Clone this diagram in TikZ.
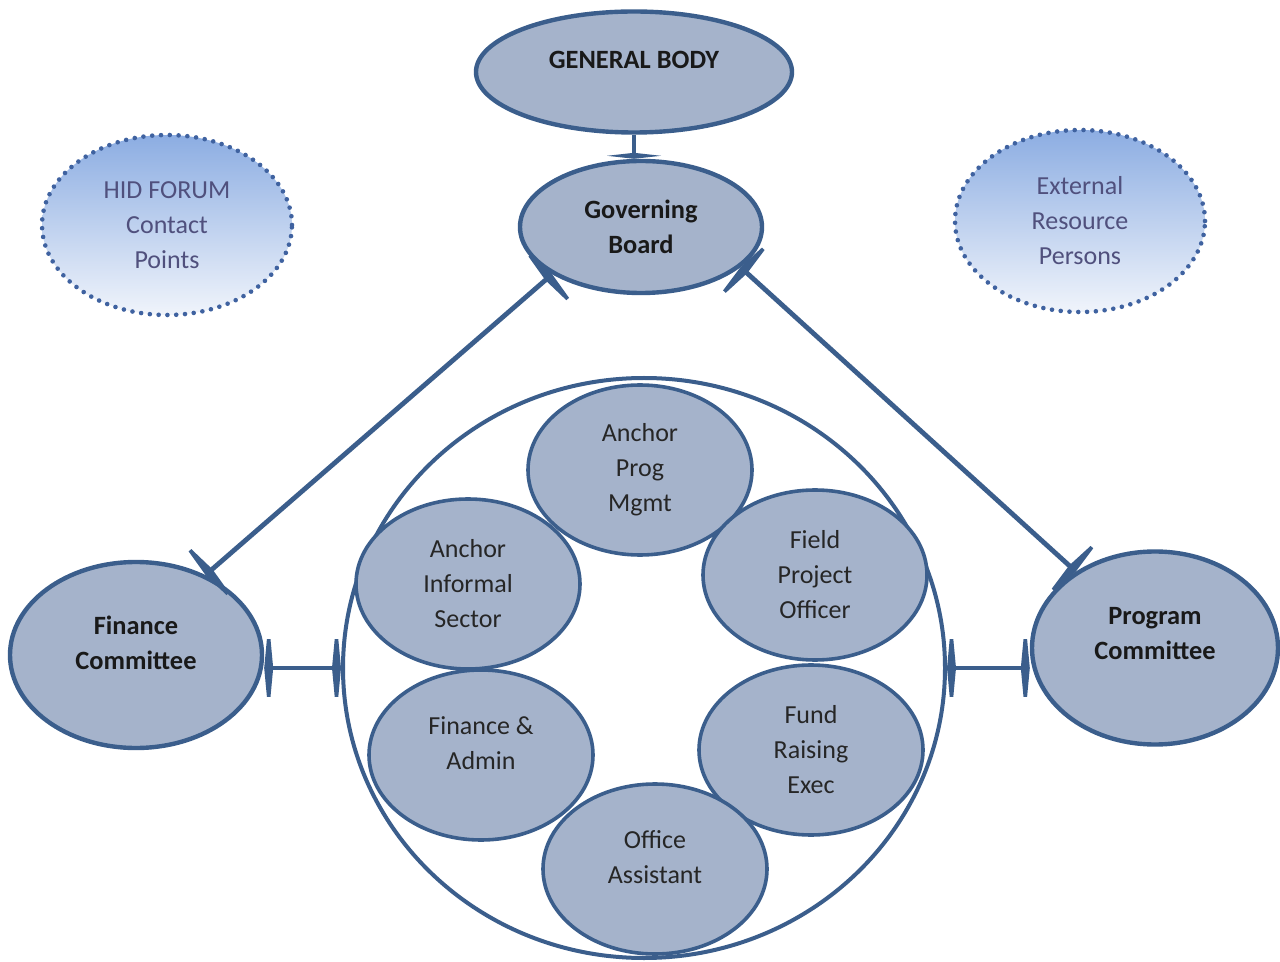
\documentclass[tikz,border=0pt]{standalone}
\usepackage{fontspec}
\setmainfont{Carlito}
\usetikzlibrary{shapes.geometric,arrows.meta}
\definecolor{linec}{RGB}{59,94,140}
\definecolor{fillc}{RGB}{165,179,203}
\definecolor{dotc}{RGB}{63,98,160}
\definecolor{gradtop}{RGB}{140,173,226}
\definecolor{gradbot}{RGB}{240,244,251}
\definecolor{softtxt}{RGB}{80,80,125}
\tikzset{
  Tbar/.tip={Kite[length=4.5pt,width=48pt,inset=2.25pt]},
  Tsmall/.tip={Kite[length=3pt,width=27pt,inset=1.5pt]},
}
\begin{document}
\begin{tikzpicture}[x=0.5pt,y=-0.5pt,
  base/.style={ellipse, inner sep=0pt, align=center, font=\fontsize{13}{17.5}\selectfont},
  mainell/.style={base, draw=linec, line width=2.2pt, fill=fillc, text=black!90, font=\bfseries\fontsize{13.2}{17.5}\selectfont},
  unit/.style={base, draw=linec, line width=1.8pt, fill=fillc, minimum width=112pt, minimum height=85pt, text=black!85},
  ghost/.style={base, draw=dotc, line width=2.3pt, dash pattern=on 0pt off 4.4pt, line cap=round, top color=gradtop, bottom color=gradbot, text=softtxt, minimum width=125pt, minimum height=90pt},
  conn/.style={draw=linec, line width=2.4pt},
]
\useasboundingbox[fill=white] (0,0) rectangle (1280,962);

% outer staff circle
\node[ellipse, draw=linec, line width=2pt, inner sep=0pt, minimum width=301pt, minimum height=290pt] (big) at (644,668) {};

% staff units
\node[unit] (apm) at (640,470) {Anchor\\Prog\\Mgmt};
\node[unit] (ais) at (468,584) {Anchor\\Informal\\Sector};
\node[unit] (fpo) at (815,575) {Field\\Project\\Officer};
\node[unit] (fa)  at (481,755) {Finance \&\\Admin\\[-5.5pt]\mbox{}};
\node[unit] (fre) at (811,750) {Fund\\Raising\\Exec};
\node[unit] (oa)  at (655,869) {Office\\Assistant\\[-5.5pt]\mbox{}};

% main bodies
\node[mainell, minimum width=158pt, minimum height=60.5pt] (gb) at (634,72) {GENERAL BODY\\[-5.5pt]\mbox{}};
\node[mainell, minimum width=121pt, minimum height=66pt] (gov) at (641,227) {Governing\\Board};
\node[mainell, minimum width=126pt, minimum height=93pt] (fin) at (136,655) {Finance\\Committee\\[-5.5pt]\mbox{}};
\node[mainell, minimum width=123pt, minimum height=96.5pt] (prog) at (1155,648) {Program\\Committee\\[-3pt]\mbox{}};

% advisory (dotted)
\node[ghost] (hid) at (167,225) {HID FORUM\\Contact\\Points};
\node[ghost, minimum height=91pt] (ext) at (1080,221) {External\\Resource\\Persons};

% connectors
\draw[conn, -Tsmall] (gb.south) -- (gb.south |- gov.north);
\draw[conn, Tbar-Tbar] (fin.49) -- (gov.208);
\draw[conn, Tbar-Tbar] (gov.-22) -- (prog.136);
\draw[conn, Tbar-Tbar] (big.west -| fin.east) -- (big.west);
\draw[conn, Tbar-Tbar] (big.east) -- (big.east -| prog.west);
\end{tikzpicture}
\end{document}
